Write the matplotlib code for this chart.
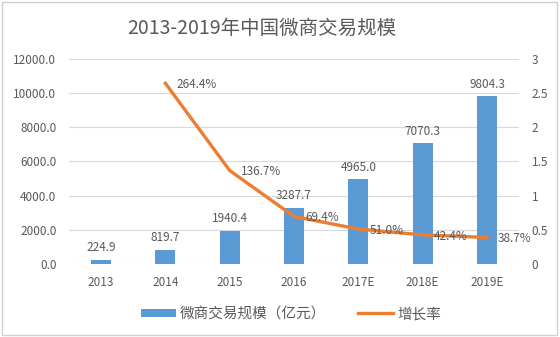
import numpy as np
import matplotlib.pyplot as plt
from matplotlib.lines import Line2D
from matplotlib.patches import Patch

plt.rcParams['font.family'] = ['Noto Sans CJK SC', 'DejaVu Sans']

# 交易规模（亿元）与增长率
years = ['2013', '2014', '2015', '2016', '2017E', '2018E', '2019E']
scale = [224.9, 819.7, 1940.4, 3287.7, 4965.0, 7070.3, 9804.3]
growth_years = years[1:]
growth = [2.644, 1.367, 0.694, 0.510, 0.424, 0.387]

bar_color = '#5B9BD5'
line_color = '#ED7D31'
text_color = '#595959'
grid_color = '#D9D9D9'

fig = plt.figure(figsize=(5.6, 3.37), dpi=100)
fig.patches.append(plt.Rectangle((0.004, 0.006), 0.99, 0.988, transform=fig.transFigure,
                                 fill=False, edgecolor='#D0D0D0', linewidth=1.0))

ax = fig.add_axes([0.123, 0.217, 0.804, 0.608])
x = np.arange(len(years))
bars = ax.bar(x, scale, width=0.31, color=bar_color, zorder=2)
for xi, v in zip(x, scale):
    ax.annotate(f'{v:.1f}', (xi, v), xytext=(0, 4), textcoords='offset points',
                ha='center', va='bottom', fontsize=8.5, color=text_color)

ax.set_ylim(0, 12000)
ax.set_xlim(-0.5, len(years) - 0.5)
ax.set_yticks(np.arange(0, 12001, 2000))
ax.set_yticklabels([f'{t:.1f}' for t in np.arange(0, 12001, 2000)])
ax.set_xticks(x)
ax.set_xticklabels(years)
ax.grid(axis='y', color=grid_color, linewidth=0.8, zorder=0)
ax.tick_params(length=0, labelsize=8.5, labelcolor=text_color, pad=9)
for s in ax.spines.values():
    s.set_visible(False)

ax2 = ax.twinx()
gx = x[1:]
ax2.plot(gx, growth, color=line_color, linewidth=2.4, zorder=3)
for xi, g in zip(gx, growth):
    ax2.annotate(f'{g * 100:.1f}%', (xi, g), xytext=(8, -1), textcoords='offset points',
                 ha='left', va='center', fontsize=8.5, color=text_color)
ax2.set_ylim(0, 3)
ax2.set_yticks([0, 0.5, 1, 1.5, 2, 2.5, 3])
ax2.set_yticklabels(['0', '0.5', '1', '1.5', '2', '2.5', '3'])
ax2.tick_params(length=0, labelsize=8.5, labelcolor=text_color, pad=9)
for s in ax2.spines.values():
    s.set_visible(False)

fig.text(0.468, 0.915, '2013-2019年中国微商交易规模', ha='center', va='center',
         fontsize=14, color=text_color)

handles = [Patch(facecolor=bar_color, edgecolor='none'),
           Line2D([], [], color=line_color, linewidth=2.4)]
fig.legend(handles, ['微商交易规模（亿元）', '增长率'], loc='center',
           bbox_to_anchor=(0.52, 0.068), ncol=2, frameon=False, fontsize=10.5,
           labelcolor=text_color, handlelength=2.4, handleheight=0.55,
           columnspacing=2.2, handletextpad=0.25)

fig.savefig('out.png', dpi=100)
